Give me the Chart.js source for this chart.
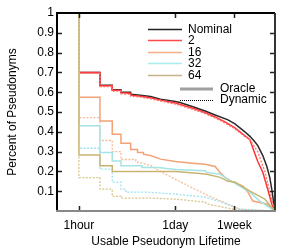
<!DOCTYPE html>
<html>
<head>
<meta charset="utf-8">
<script src="https://cdn.jsdelivr.net/npm/chart.js@4"></script>
<style>
  html, body { margin: 0; padding: 0; background: #ffffff; }
  #contenedor { width: 297px; height: 249px; }
</style>
</head>
<body>
<div id="contenedor"><canvas id="grafica" width="297" height="249"></canvas></div>
<script>
/* Datos: [horas, fraccion de pseudonimos usables] */

let nominal = [[1,1],[1,0.70],[2,0.70],[2,0.635],[3,0.635],[3,0.613],[4,0.613],[4,0.60],[5.5,0.60],[5.5,0.59],
  [7.6,0.585],[10.6,0.578],[14.7,0.565],[24,0.553],[28,0.548],[46,0.523],[64,0.505],[89,0.485],[136,0.46],
  [171,0.44],[237,0.40],[280,0.377],[329,0.35],[363,0.33],[428,0.28],[488,0.226],[538,0.17],[575,0.11],[614,0.04],[634,0]];

let oracle2 = [[1,1],[1,0.70],[2,0.70],[2,0.633],[3,0.633],[3,0.61],[4,0.61],[4,0.597],[5.5,0.595],[5.5,0.585],
  [7.6,0.58],[10.6,0.572],[14.7,0.56],[24,0.545],[46,0.515],[64,0.497],[89,0.475],[123,0.45],[171,0.42],
  [237,0.38],[280,0.36],[329,0.29],[363,0.25],[428,0.196],[504,0.11],[575,0.035],[634,0]];

let dynamic2 = [[1,1],[1,0.695],[2,0.695],[2,0.628],[3,0.628],[3,0.605],[4,0.605],[4,0.592],[5.5,0.59],[5.5,0.58],
  [7.6,0.575],[10.6,0.567],[14.7,0.555],[24,0.54],[46,0.51],[64,0.492],[89,0.47],[123,0.445],[171,0.415],
  [237,0.375],[280,0.36],[363,0.30],[457,0.20],[538,0.10],[614,0.02],[634,0]];

let oracle16 = [[1,1],[1,0.575],[2,0.575],[2,0.455],[3,0.455],[3,0.387],[4,0.387],[4,0.342],[5.5,0.342],[5.5,0.31],
  [6.9,0.31],[6.9,0.296],[8.4,0.296],[8.4,0.286],[10.6,0.28],[14.7,0.262],[24,0.25],[46,0.24],[64,0.236],
  [89,0.225],[104,0.196],[123,0.17],[160,0.146],[222,0.126],[262,0.095],[308,0.05],[488,0.035],[614,0.01],[634,0]];

let dynamic16 = [[1,1],[1,0.472],[2,0.472],[2,0.356],[3,0.356],[3,0.30],[4,0.30],[4,0.26],[6.5,0.26],[6.5,0.25],
  [10.6,0.23],[14.7,0.20],[24,0.16],[46,0.11],[64,0.085],[116,0.045],[201,0.008],[634,0]];

let oracle32 = [[1,1],[1,0.43],[2,0.43],[2,0.296],[3,0.296],[3,0.253],[4,0.253],[4,0.228],[8,0.228],[8,0.22],
  [13.7,0.22],[24,0.21],[64,0.203],[68,0.195],[105,0.186],[136,0.16],[160,0.146],[280,0.095],[388,0.05],[634,0]];

let dynamic32 = [[1,1],[1,0.317],[2,0.317],[2,0.211],[3,0.211],[3,0.146],[4,0.146],[4,0.11],[4.7,0.11],[4.7,0.095],
  [10,0.095],[24,0.085],[64,0.07],[100,0.05],[201,0.01],[634,0]];

let oracle64 = [[1,1],[1,0.283],[2,0.283],[2,0.228],[3,0.228],[3,0.20],[24,0.20],[54,0.19],[68,0.186],[105,0.17],
  [136,0.15],[171,0.146],[280,0.10],[457,0.06],[634,0]];

let dynamic64 = [[1,1],[1,0.169],[2,0.169],[2,0.11],[3,0.11],[3,0.074],[4,0.074],[4,0.065],[10.6,0.065],[24,0.06],
  [64,0.045],[68,0.035],[201,0.003],[634,0]];

let xTicks = [1, 24, 168];
let xTickLabels = ['1hour', '1day', '1week'];

let legendLabels = ['Nominal', '2', '16', '32', '64'];
let legendColors = ['#222222', '#ff4a4a', '#f4ae84', '#a8ecee', '#c4b488'];
let styleLabels = ['Oracle', 'Dynamic'];

Chart.defaults.font.family = '"Liberation Sans", Arial, Helvetica, sans-serif';
Chart.defaults.font.size = 12;
Chart.defaults.color = '#000000';

// Crea una serie a partir de pares [x, y]
function crearSerie(puntos, color, punteada, orden) {
    return {
        data: puntos.map(p => ({x: p[0], y: p[1]})),
        borderColor: color,
        borderWidth: punteada ? 1.3 : 1.5,
        borderDash: punteada ? [2, 1.5] : [],
        pointRadius: 0,
        fill: false,
        tension: 0,
        order: orden
    };
}

// Marco, marcas de los ejes y leyenda
let marcoYLeyenda = {
    id: 'marcoYLeyenda',
    afterDatasetsDraw(chart) {
        let ctx = chart.ctx;
        let area = chart.chartArea;
        let ex = chart.scales.x;
        let ey = chart.scales.y;
        ctx.save();
        ctx.setLineDash([]);

        // Marcas del eje y (izquierda y derecha)
        ctx.strokeStyle = '#222222';
        ctx.lineWidth = 1.5;
        for (let v = 1; v <= 9; v++) {
            let y = Math.round(ey.getPixelForValue(v / 10)) + 0.5;
            ctx.beginPath();
            ctx.moveTo(area.left, y); ctx.lineTo(area.left + 5, y);
            ctx.moveTo(area.right, y); ctx.lineTo(area.right - 5, y);
            ctx.stroke();
        }
        // Marcas del eje x (abajo y arriba)
        for (let i = 0; i < xTicks.length; i++) {
            let x = Math.round(ex.getPixelForValue(xTicks[i])) + 0.5;
            ctx.beginPath();
            ctx.moveTo(x, area.bottom); ctx.lineTo(x, area.bottom - 5);
            ctx.moveTo(x, area.top); ctx.lineTo(x, area.top + 5);
            ctx.stroke();
        }

        // Bordes
        ctx.lineWidth = 2;
        ctx.strokeStyle = '#000000';
        ctx.beginPath();
        ctx.moveTo(area.left, area.bottom); ctx.lineTo(area.left, area.top); ctx.lineTo(area.right, area.top);
        ctx.stroke();
        ctx.strokeStyle = '#333333';
        ctx.beginPath();
        ctx.moveTo(area.right, area.top); ctx.lineTo(area.right, area.bottom);
        ctx.stroke();
        ctx.strokeStyle = '#888888';
        ctx.beginPath();
        ctx.moveTo(area.left - 1, area.bottom); ctx.lineTo(area.right + 1, area.bottom);
        ctx.stroke();

        // Leyenda
        ctx.font = '12px "Liberation Sans", Arial, sans-serif';
        ctx.fillStyle = '#000000';
        ctx.textBaseline = 'middle';
        ctx.textAlign = 'left';
        let filas = [29, 40, 52, 63, 75];
        for (let i = 0; i < legendLabels.length; i++) {
            ctx.strokeStyle = legendColors[i];
            ctx.lineWidth = 1.5;
            ctx.beginPath();
            ctx.moveTo(148, filas[i] + 0.5); ctx.lineTo(182, filas[i] + 0.5);
            ctx.stroke();
            ctx.fillText(legendLabels[i], 188, filas[i] + 1);
        }
        ctx.strokeStyle = '#a0a0a0';
        ctx.lineWidth = 3;
        ctx.beginPath();
        ctx.moveTo(180, 89); ctx.lineTo(213, 89);
        ctx.stroke();
        ctx.fillText(styleLabels[0], 220, 89);
        ctx.strokeStyle = '#000000';
        ctx.lineWidth = 1;
        ctx.setLineDash([1, 1]);
        ctx.beginPath();
        ctx.moveTo(180, 100.5); ctx.lineTo(213, 100.5);
        ctx.stroke();
        ctx.fillText(styleLabels[1], 220, 100);
        ctx.restore();
    }
};

let ctx = document.getElementById('grafica').getContext('2d');
let grafica = new Chart(ctx, {
    type: 'line',
    data: {
        datasets: [
            crearSerie(nominal, '#2a2a2a', false, 9),
            crearSerie(oracle2, '#ff3333', false, 8),
            crearSerie(dynamic2, '#ff7070', true, 7),
            crearSerie(oracle16, '#f2a274', false, 6),
            crearSerie(dynamic16, '#f7bc98', true, 5),
            crearSerie(oracle32, '#a4e4e4', false, 4),
            crearSerie(dynamic32, '#9ee2ee', true, 3),
            crearSerie(oracle64, '#c8b470', false, 2),
            crearSerie(dynamic64, '#d8c48c', true, 1)
        ]
    },
    options: {
        responsive: false,
        animation: false,
        events: [],
        layout: {
            padding: {top: 13, right: 22, left: 0, bottom: 0}
        },
        plugins: {
            legend: {display: false},
            tooltip: {enabled: false}
        },
        scales: {
            x: {
                type: 'logarithmic',
                min: 0.486,
                max: 640,
                afterFit: function(scale) { scale.height = 38; },
                afterBuildTicks: function(scale) {
                    scale.ticks = xTicks.map(v => ({value: v}));
                },
                grid: {display: false, drawTicks: false},
                border: {display: false},
                ticks: {
                    autoSkip: false,
                    maxRotation: 0,
                    padding: 7,
                    callback: function(value, index) { return xTickLabels[index]; }
                },
                title: {
                    display: true,
                    text: 'Usable Pseudonym Lifetime',
                    padding: {top: 0, bottom: 0}
                }
            },
            y: {
                min: 0,
                max: 1,
                afterFit: function(scale) { scale.width = 57; },
                grid: {display: false, drawTicks: false},
                border: {display: false},
                ticks: {
                    stepSize: 0.1,
                    padding: 3,
                    callback: function(value) {
                        return value === 0 ? '' : String(Math.round(value * 10) / 10);
                    }
                },
                title: {
                    display: true,
                    text: 'Percent of Pseudonyms',
                    padding: {top: 5, bottom: 0}
                }
            }
        }
    },
    plugins: [marcoYLeyenda]
});
</script>
</body>
</html>
